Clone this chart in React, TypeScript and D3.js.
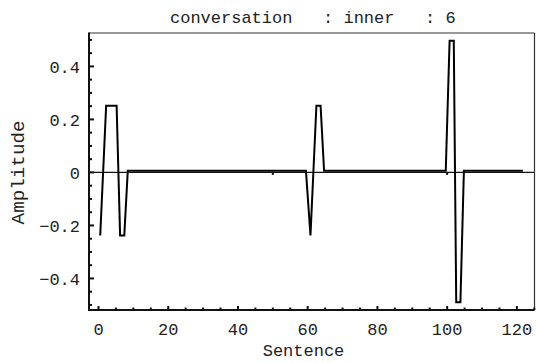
import * as d3 from 'd3';

// Sentence positions and amplitudes
const sentence = [0.5, 2.2, 5.2, 6.2, 7.4, 8.4, 59.5, 60.8, 62.5, 63.7, 64.7, 99.6, 100.7, 101.9, 102.6, 103.8, 104.8, 121.7];
const amplitude = [-0.238, 0.252, 0.252, -0.238, -0.238, 0.006, 0.006, -0.238, 0.252, 0.252, 0.006, 0.006, 0.497, 0.497, -0.49, -0.49, 0.006, 0.006];

const xMajorTicks = [0, 20, 40, 60, 80, 100, 120];
const yMajorTicks = [-0.4, -0.2, 0, 0.2, 0.4];
const zeroAxisTicks = [50, 100];

const W = 536;
const H = 363;
const frame = { left: 89, right: 534.5, top: 33, bottom: 310 };
const FONT = '"Liberation Mono", "Courier New", monospace';

export default function App() {
  const x = d3.scaleLinear().domain([-2.72, 125.05]).range([frame.left, frame.right]);
  const y = d3.scaleLinear().domain([-0.519, 0.526]).range([frame.bottom, frame.top]);

  const points: [number, number][] = sentence.map((s, i) => [s, amplitude[i]]);
  const line = d3
    .line<[number, number]>()
    .x((d) => x(d[0]))
    .y((d) => y(d[1]));

  const xMinor = d3.range(0, 126, 5);
  // minor y ticks every 0.05, the ones on multiples of 0.2 are longer
  const yMinor = d3.range(-10, 11);
  const fmt = (v: number) => (v === 0 ? '0' : d3.format('.1f')(v).replace('-', '\u2212'));

  return (
    <svg
      width={W}
      height={H}
      style={{ position: 'absolute', left: 0, top: 0, background: '#fff' }}
      fontFamily={FONT}
    >
      {/* title */}
      <text x={170} y={22.5} fontSize={17} fill="#222" style={{ whiteSpace: 'pre' }}>
        {'conversation   : inner   : 6'}
      </text>

      {/* zero axis */}
      <line x1={frame.left} x2={frame.right} y1={y(0)} y2={y(0)} stroke="#111" strokeWidth={1.2} />
      {zeroAxisTicks.map((t) => (
        <line key={'z' + t} x1={x(t)} x2={x(t)} y1={y(0)} y2={y(0) + 2.5} stroke="#111" strokeWidth={2} />
      ))}

      {/* data */}
      <path d={line(points) ?? ''} fill="none" stroke="#000" strokeWidth={2} strokeLinejoin="miter" />

      {/* frame */}
      <line x1={frame.left} x2={frame.right} y1={frame.top} y2={frame.top} stroke="#333" strokeWidth={1.2} />
      <line x1={frame.right} x2={frame.right} y1={frame.top} y2={frame.bottom} stroke="#333" strokeWidth={1.2} />
      <line x1={frame.left} x2={frame.left} y1={frame.top - 0.6} y2={frame.bottom + 1} stroke="#111" strokeWidth={2} />
      <line x1={frame.left - 1} x2={frame.right} y1={frame.bottom} y2={frame.bottom} stroke="#111" strokeWidth={2} />

      {/* x ticks */}
      {xMinor.map((t) => {
        const major = t % 20 === 0;
        return (
          <line
            key={'xt' + t}
            x1={x(t)}
            x2={x(t)}
            y1={frame.bottom}
            y2={frame.bottom - (major ? 4 : 2.5)}
            stroke="#111"
            strokeWidth={2}
          />
        );
      })}
      {xMajorTicks.map((t) => (
        <text key={'xl' + t} x={x(t)} y={335} fontSize={17} textAnchor="middle" fill="#222">
          {t}
        </text>
      ))}

      {/* y ticks */}
      {yMinor.map((k) => {
        const t = k * 0.05;
        if (y(t) < frame.top + 2 || y(t) > frame.bottom - 2) return null;
        const major = k % 4 === 0;
        return (
          <line
            key={'yt' + k}
            x1={frame.left}
            x2={frame.left + (major ? 5 : 3)}
            y1={y(t)}
            y2={y(t)}
            stroke="#111"
            strokeWidth={2}
          />
        );
      })}
      {yMajorTicks.map((t) => (
        <text key={'yl' + t} x={80} y={y(t)} dy="0.36em" fontSize={17} textAnchor="end" fill="#222">
          {fmt(t)}
        </text>
      ))}

      {/* axis labels */}
      <text x={303.5} y={356} fontSize={17} textAnchor="middle" fill="#222">
        Sentence
      </text>
      <text
        transform={`translate(24, ${y(0)}) rotate(-90)`}
        fontSize={18}
        textAnchor="middle"
        fill="#222"
        textLength={104}
        lengthAdjust="spacingAndGlyphs"
      >
        Amplitude
      </text>
    </svg>
  );
}
